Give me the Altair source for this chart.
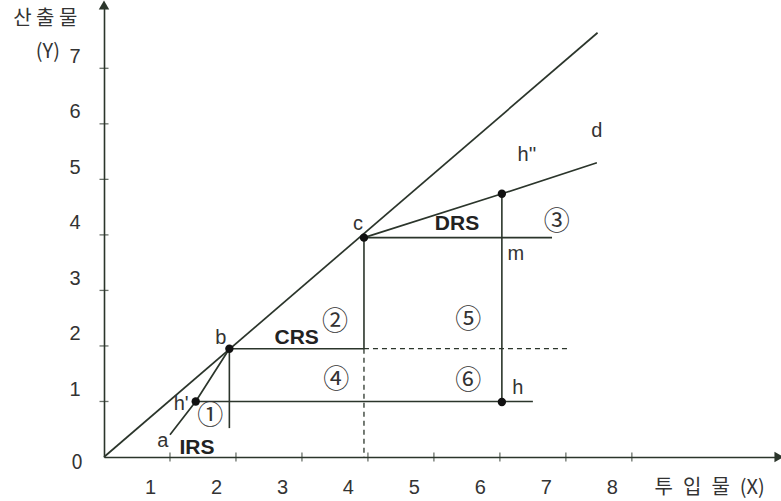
import altair as alt
import pandas as pd

# ---- data -------------------------------------------------------------
X_MAX = 10.23          # end of the input axis (arrow)
Y_MAX = 8.14           # end of the output axis (arrow)

# ray through the origin (constant returns)
ray_x = [0.0, 7.48]
ray_y = [0.0, 7.64]

# increasing-returns segment a -> h' -> b
irs_x = [1.00, 1.39, 1.90]
irs_y = [0.40, 1.00, 1.95]

# decreasing-returns segment c -> h'' -> d
drs_x = [3.94, 6.03, 7.47]
drs_y = [3.95, 4.74, 5.30]

# solid guide segments (x1, y1) -> (x2, y2)
seg_x1 = [1.39, 1.90, 1.90, 3.94, 3.94, 6.03]
seg_y1 = [1.00, 1.95, 1.95, 3.95, 3.95, 4.74]
seg_x2 = [6.50, 3.94, 1.90, 6.79, 3.94, 6.03]
seg_y2 = [1.00, 1.95, 0.52, 3.95, 1.95, 0.99]

# dashed guide segments
dash_x1 = [3.94, 3.94]
dash_y1 = [1.95, 1.95]
dash_x2 = [7.02, 3.94]
dash_y2 = [1.95, 0.00]

# marked production points
pt_name = ["b", "c", "h''", "h'", "h"]
pt_x = [1.90, 3.94, 6.03, 1.39, 6.03]
pt_y = [1.95, 3.95, 4.74, 1.00, 0.99]

# point letters
lab_text = ["a", "h'", "b", "c", "m", "h", "h''", "d"]
lab_x = [0.89, 1.17, 1.77, 3.85, 6.24, 6.27, 6.41, 7.47]
lab_y = [0.29, 0.95, 2.14, 4.20, 3.66, 1.24, 5.44, 5.87]

# returns-to-scale tags
rts_text = ["IRS", "CRS", "DRS"]
rts_x = [1.41, 2.92, 5.35]
rts_y = [0.16, 2.14, 4.20]

# numbered regions
num_text = ["①", "②", "③", "④", "⑤", "⑥"]
num_x = [1.61, 3.50, 6.86, 3.52, 5.52, 5.52]
num_y = [0.74, 2.43, 4.23, 1.39, 2.47, 1.37]

# axis captions
cap_text = ["산 출 물", "(Y)", "투\u2002입\u2002물\u2002(X)", "0"]
cap_x = [-0.89, -0.85, 9.18, -0.41]
cap_y = [7.89, 7.30, -0.56, -0.11]

x_ticks = [1, 2, 3, 4, 5, 6, 7, 8]
y_ticks = [1, 2, 3, 4, 5, 6, 7]

# ---- styling ----------------------------------------------------------
LINE = "#2b352b"
INK = "#333333"
FONT = "Liberation Sans"
KFONT = "Noto Sans CJK KR"

xs = alt.Scale(domain=[0, X_MAX], nice=False, zero=False)
ys = alt.Scale(domain=[0, Y_MAX], nice=False, zero=False)

# axis ticks are drawn as a separate crossing-tick layer below
x_axis = alt.Axis(values=x_ticks, title=None, grid=False, domainColor=LINE,
                  domainWidth=1.6, ticks=False,
                  labelFont=FONT, labelFontSize=20, labelColor=INK,
                  labelPadding=20, labelOffset=-20, labelFlush=False)
y_axis = alt.Axis(values=y_ticks, title=None, grid=False, domainColor=LINE,
                  domainWidth=1.6, ticks=False,
                  labelFont=FONT, labelFontSize=20, labelColor=INK,
                  labelPadding=24, labelOffset=-12, labelFlush=False)


def X(field):
    return alt.X(field, type="quantitative", scale=xs, axis=x_axis)


def Y(field):
    return alt.Y(field, type="quantitative", scale=ys, axis=y_axis)


# ---- layers -----------------------------------------------------------
ray = alt.Chart(pd.DataFrame({"x": ray_x, "y": ray_y})).mark_line(
    color=LINE, strokeWidth=1.7
).encode(x=X("x"), y=Y("y"))

irs = alt.Chart(pd.DataFrame({"x": irs_x, "y": irs_y})).mark_line(
    color=LINE, strokeWidth=1.7
).encode(x=X("x"), y=Y("y"))

drs = alt.Chart(pd.DataFrame({"x": drs_x, "y": drs_y})).mark_line(
    color=LINE, strokeWidth=1.7
).encode(x=X("x"), y=Y("y"))

segs = alt.Chart(pd.DataFrame({"x1": seg_x1, "y1": seg_y1,
                               "x2": seg_x2, "y2": seg_y2})).mark_rule(
    color=LINE, strokeWidth=1.6
).encode(x=X("x1"), y=Y("y1"), x2="x2", y2="y2")

dashes = alt.Chart(pd.DataFrame({"x1": dash_x1, "y1": dash_y1,
                                 "x2": dash_x2, "y2": dash_y2})).mark_rule(
    color=LINE, strokeWidth=1.3, strokeDash=[5, 4]
).encode(x=X("x1"), y=Y("y1"), x2="x2", y2="y2")

# small ticks crossing each axis line
x_tick_marks = alt.Chart(pd.DataFrame({"x": x_ticks, "y": [0] * len(x_ticks)})).mark_tick(
    color=LINE, orient="vertical", size=9, thickness=1.3
).encode(x=X("x"), y=Y("y"))

y_tick_marks = alt.Chart(pd.DataFrame({"x": [0] * len(y_ticks), "y": y_ticks})).mark_tick(
    color=LINE, orient="horizontal", size=9, thickness=1.3
).encode(x=X("x"), y=Y("y"))

dots = alt.Chart(pd.DataFrame({"name": pt_name, "x": pt_x, "y": pt_y})).mark_circle(
    color="#111111", size=70, opacity=1
).encode(x=X("x"), y=Y("y"))

arrows = alt.Chart(pd.DataFrame({"x": [0.0, X_MAX], "y": [Y_MAX, 0.0],
                                 "shape": ["triangle-up", "triangle-right"]})).mark_point(
    filled=True, color=LINE, size=110, opacity=1
).encode(x=X("x"), y=Y("y"),
         shape=alt.Shape("shape:N", scale=None, legend=None))

letters = alt.Chart(pd.DataFrame({"t": lab_text, "x": lab_x, "y": lab_y})).mark_text(
    font=FONT, fontSize=20, color=INK
).encode(x=X("x"), y=Y("y"), text="t:N")

rts = alt.Chart(pd.DataFrame({"t": rts_text, "x": rts_x, "y": rts_y})).mark_text(
    font=FONT, fontSize=21, fontWeight="bold", color="#222222"
).encode(x=X("x"), y=Y("y"), text="t:N")

nums = alt.Chart(pd.DataFrame({"t": num_text, "x": num_x, "y": num_y})).mark_text(
    font=KFONT, fontSize=26, color=INK
).encode(x=X("x"), y=Y("y"), text="t:N")

caps = alt.Chart(pd.DataFrame({"t": cap_text, "x": cap_x, "y": cap_y})).mark_text(
    font=KFONT, fontSize=20, color=INK
).encode(x=X("x"), y=Y("y"), text="t:N")

chart = alt.layer(
    ray, irs, drs, segs, dashes, x_tick_marks, y_tick_marks,
    dots, arrows, letters, rts, nums, caps
).properties(
    width=675,
    height=452,
    autosize="none",
    padding={"left": 104, "top": 5, "right": 2, "bottom": 44},
    background="white",
).configure_view(stroke=None)

chart.save("out.html", embed_options={"renderer": "svg", "actions": False})
